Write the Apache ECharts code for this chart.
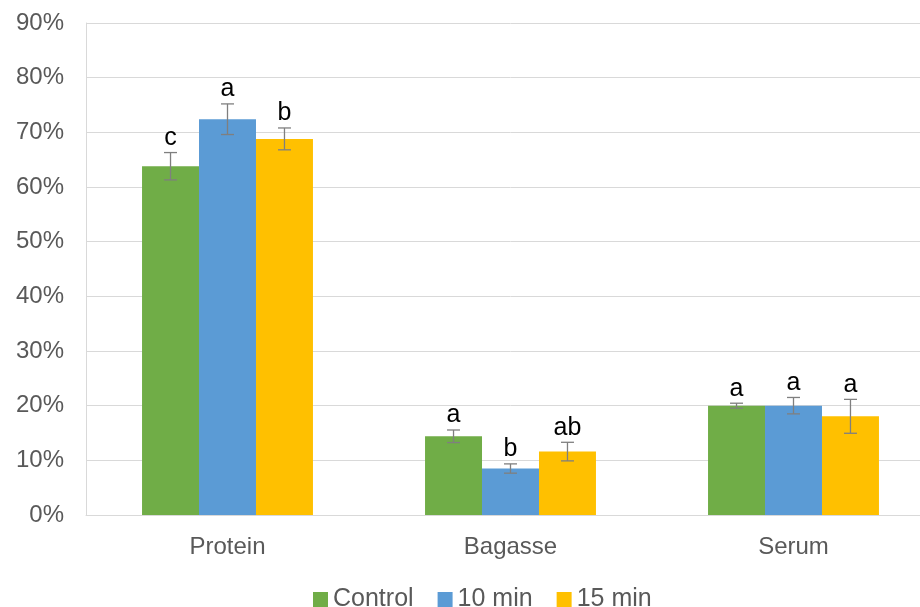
<!DOCTYPE html>
<html><head><meta charset="utf-8">
<script src="https://cdn.jsdelivr.net/npm/echarts@6/dist/echarts.min.js"></script>
<style>html,body{margin:0;padding:0;background:#fff;overflow:hidden;width:920px;height:607px}#c{width:935px;height:607px}</style>
</head><body><div id="c"></div>
<script>
const categories = ['Protein', 'Bagasse', 'Serum'];
const seriesNames = ['Control', '10 min', '15 min'];
const control = [63.8, 14.4, 20.0];
const min10 = [72.4, 8.5, 20.0];
const min15 = [68.8, 11.6, 18.05];
const controlErr = [2.5, 1.15, 0.45];
const min10Err = [2.8, 0.85, 1.5];
const min15Err = [2.0, 1.7, 3.1];
const controlLetters = ['c', 'a', 'a'];
const min10Letters = ['a', 'b', 'a'];
const min15Letters = ['b', 'ab', 'a'];
const yTicks = [0, 10, 20, 30, 40, 50, 60, 70, 80, 90];

const colors = ['#70AD47', '#5B9BD5', '#FFC000'];
const values = [control, min10, min15];
const errs = [controlErr, min10Err, min15Err];
const letters = [controlLetters, min10Letters, min15Letters];
const catGap = 0.396;
const FONT = 'Liberation Sans, Arial, sans-serif';

const chart = echarts.init(document.getElementById('c'));
const series = [];
values.forEach((vals, si) => {
  series.push({
    name: seriesNames[si], type: 'bar', data: vals,
    itemStyle: { color: colors[si] },
    barGap: '0%', barCategoryGap: (catGap * 100) + '%'
  });
});
values.forEach((vals, si) => {
  series.push({
    name: seriesNames[si] + ' err', type: 'custom',
    data: vals.map((v, i) => [i, v, errs[si][i]]),
    z: 5,
    renderItem: function (params, api) {
      const idx = api.value(0), v = api.value(1), e = api.value(2);
      const letter = letters[si][idx];
      const catW = api.size([1, 0])[0];
      const barW = catW * (1 - catGap) / 3;
      const c = api.coord([idx, v]);
      const x = c[0] + (si - 1) * barW;
      const top = api.coord([idx, v + e])[1];
      const bot = api.coord([idx, v - e])[1];
      const cap = 6.5;
      const st = { stroke: '#7F7F7F', lineWidth: 1.3 };
      return {
        type: 'group', children: [
          { type: 'line', shape: { x1: x, y1: top, x2: x, y2: bot }, style: st },
          { type: 'line', shape: { x1: x - cap, y1: top, x2: x + cap, y2: top }, style: st },
          { type: 'line', shape: { x1: x - cap, y1: bot, x2: x + cap, y2: bot }, style: st },
          { type: 'text', x: x, y: top - 2, style: { text: letter, fill: '#000', font: '25px ' + FONT, align: 'center', verticalAlign: 'bottom' } }
        ]
      };
    }
  });
});

chart.setOption({
  animation: false,
  textStyle: { fontFamily: FONT },
  grid: { left: 86, right: 0, top: 23, bottom: 92, containLabel: false },
  legend: {
    data: seriesNames, top: 587, left: 313, padding: 0,
    itemWidth: 15, itemHeight: 15, itemGap: 24, icon: 'rect',
    textStyle: { fontSize: 25, color: '#595959', fontFamily: FONT }
  },
  xAxis: {
    type: 'category', data: categories,
    axisLine: { lineStyle: { color: '#D9D9D9', width: 1 } },
    axisTick: { show: false },
    axisLabel: { fontSize: 24, color: '#595959', margin: 20, fontFamily: FONT }
  },
  yAxis: {
    type: 'value', min: yTicks[0], max: yTicks[yTicks.length - 1], interval: 10,
    axisLine: { show: true, lineStyle: { color: '#D9D9D9' } },
    axisTick: { show: false },
    splitLine: { lineStyle: { color: '#D9D9D9' } },
    axisLabel: { fontSize: 24, color: '#595959', margin: 22, formatter: v => v + '%', fontFamily: FONT }
  },
  series: series
});
</script></body></html>
